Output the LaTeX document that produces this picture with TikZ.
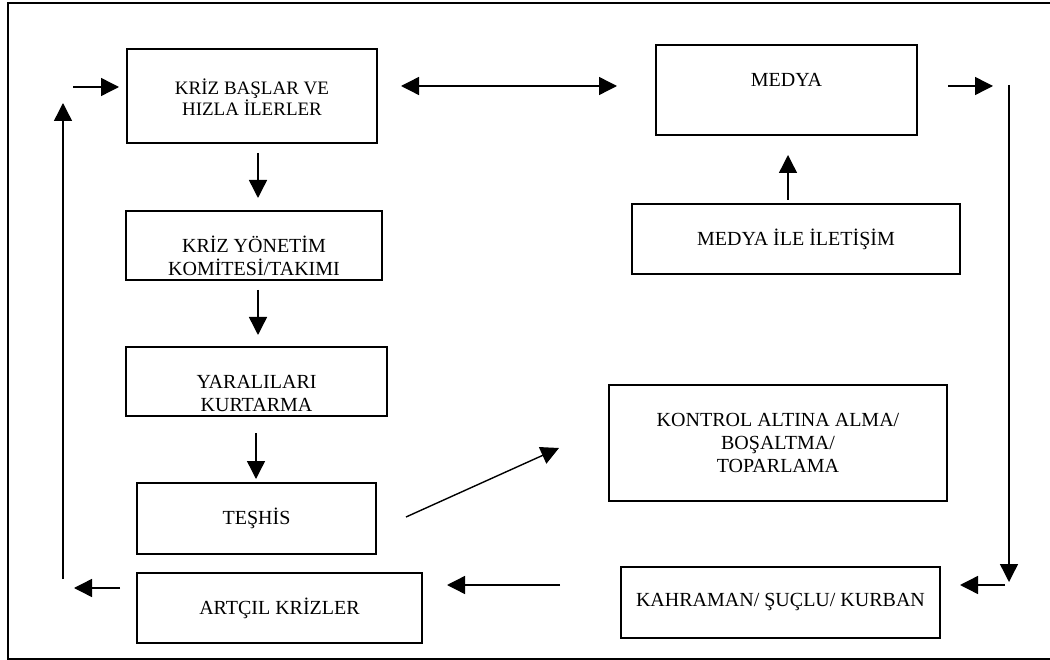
\documentclass[tikz,border=0pt]{standalone}
\usepackage{fontspec}
\setmainfont{Liberation Serif}
\usetikzlibrary{arrows.meta}

\tikzset{
  box/.style={draw, rectangle, inner sep=0pt, outer sep=0pt, anchor=north west},
  thick box/.style={box, line width=1.9pt},
  mid box/.style={box, line width=1.6pt},
  thin box/.style={box, line width=1.2pt},
  label text/.style={align=center, inner sep=0pt,
    font=\fontsize{20pt}{23pt}\selectfont},
  flow/.style={line width=1.4pt, -{Triangle[length=18pt,width=18pt]}},
  both flow/.style={line width=1.4pt,
    {Triangle[length=18pt,width=18pt]}-{Triangle[length=18pt,width=18pt]}}
}

\begin{document}
\begin{tikzpicture}[x=1pt, y=-1pt]
\useasboundingbox (0,0) rectangle (1050,660);

% outer frame (open on the right)
\draw[line width=2pt] (1050,3) -- (8,3) -- (8,659) -- (1050,659);

% left column boxes
\node[thick box, minimum width=250pt, minimum height=94pt] (start) at (127,49) {};
\node[label text, font=\fontsize{19pt}{21pt}\selectfont] (startT) at ([yshift=-1pt]start.center) {KRİZ BAŞLAR VE\\HIZLA İLERLER};

\node[mid box, minimum width=256pt, minimum height=69pt] (team) at (126,211) {};
\node[label text] (teamT) at ([yshift=-10pt]team.center) {KRİZ YÖNETİM\\KOMİTESİ/TAKIMI};

\node[mid box, minimum width=261pt, minimum height=69pt] (rescue) at (126,347) {};
\node[label text] (rescueT) at ([yshift=-12pt]rescue.center) {YARALILARI\\KURTARMA};

\node[mid box, minimum width=239pt, minimum height=71pt] (diag) at (137,483) {};
\node[label text] (diagT) at (diag.center) {TEŞHİS};

\node[mid box, minimum width=285pt, minimum height=70pt] (after) at (137,573) {};
\node[label text] (afterT) at (after.center) {ARTÇIL KRİZLER};

% right column boxes
\node[thin box, minimum width=261pt, minimum height=90pt] (media) at (656,45) {};
\node[label text] (mediaT) at ([yshift=10.5pt]media.center) {MEDYA};

\node[mid box, minimum width=328pt, minimum height=70pt] (comm) at (632,204) {};
\node[label text] (commT) at (comm.center) {MEDYA İLE İLETİŞİM};

\node[thin box, minimum width=338pt, minimum height=116pt] (control) at (609,385) {};
\node[label text] (controlT) at (control.center) {KONTROL ALTINA ALMA/\\BOŞALTMA/\\TOPARLAMA};

\node[thick box, minimum width=319pt, minimum height=71pt] (hero) at (621,567) {};
\node[label text] (heroT) at (hero.center) {KAHRAMAN/ ŞUÇLU/ KURBAN};

% arrow end points
\coordinate (inA) at (73,87);    \coordinate (inB) at (119,87);
\coordinate (d1a) at (258,153);  \coordinate (d1b) at (258,198);
\coordinate (d2a) at (258,290);  \coordinate (d2b) at (258,335);
\coordinate (d3a) at (256,433);  \coordinate (d3b) at (256,479);
\coordinate (dgA) at (406,517);  \coordinate (dgB) at (559,448);
\coordinate (bwA) at (401,86);   \coordinate (bwB) at (617,86);
\coordinate (upA) at (788,200);  \coordinate (upB) at (788,155);
\coordinate (rtA) at (948,86);   \coordinate (rtB) at (993,86);
\coordinate (rvA) at (1009,85);  \coordinate (rvB) at (1009,582);
\coordinate (hlA) at (1005,585); \coordinate (hlB) at (960,585);
\coordinate (mlA) at (560,585);  \coordinate (mlB) at (447,585);
\coordinate (alA) at (120,588);  \coordinate (alB) at (74,588);
\coordinate (lvA) at (63,579);   \coordinate (lvB) at (63,103);

% connectors
\draw[flow] (inA) -- (inB);
\draw[flow] (d1a) -- (d1b);
\draw[flow] (d2a) -- (d2b);
\draw[flow] (d3a) -- (d3b);
\draw[flow] (dgA) -- (dgB);
\draw[both flow] (bwA) -- (bwB);
\draw[flow] (upA) -- (upB);
\draw[flow] (rtA) -- (rtB);
\draw[flow] (rvA) -- (rvB);
\draw[flow] (hlA) -- (hlB);
\draw[flow] (mlA) -- (mlB);
\draw[flow] (alA) -- (alB);
\draw[flow] (lvA) -- (lvB);
\end{tikzpicture}
\end{document}
